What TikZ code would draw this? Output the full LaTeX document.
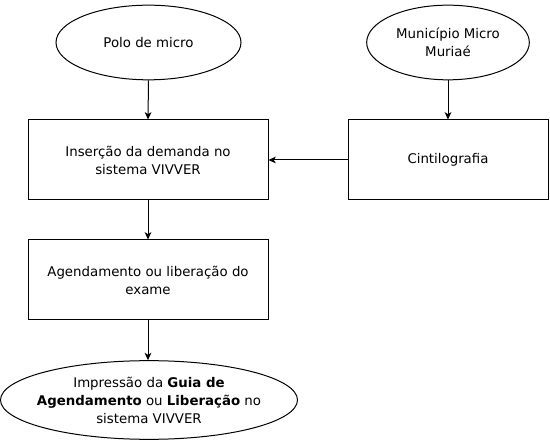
\documentclass[tikz,border=0pt]{standalone}
\usepackage{fontspec}
\setmainfont{DejaVu Sans}
\usetikzlibrary{shapes.geometric,arrows.meta}
\begin{document}
\begin{tikzpicture}[x=0.75pt,y=-0.75pt,
  every node/.style={font=\fontsize{10pt}{13.5pt}\selectfont, align=center, inner sep=0pt, line width=0.75pt},
  procbox/.style={rectangle, draw=black, minimum width=180pt, minimum height=60pt},
  ovalnode/.style={ellipse, draw=black},
  label text/.style={draw=none},
  flow/.style={line width=0.75pt, -{Stealth[length=5.5pt,width=5pt,inset=1.5pt]}}]
\useasboundingbox (0,0) rectangle (550,441);
\node[ovalnode, minimum width=138.75pt, minimum height=56pt] (polo) at (148.5,42.5) {};
\node[label text] (polo-t) at (polo.center) {Polo de micro};
\node[ovalnode, minimum width=122pt, minimum height=56pt] (mun) at (448,42.5) {};
\node[label text] (mun-t) at (mun.center) {Município Micro\\Muriaé};
\node[procbox] (ins) at (148,160) {Inserção da demanda no\\sistema VIVVER};
\node[procbox, minimum width=150pt] (cin) at (448,160) {Cintilografia};
\node[procbox] (age) at (148,280) {Agendamento ou liberação do\\exame};
\node[ovalnode, minimum width=222.75pt, minimum height=59pt] (imp) at (149,400) {};
\node[label text] (imp-t) at (imp.center) {Impressão da \textbf{Guia de}\\\textbf{Agendamento} ou \textbf{Liberação} no\\sistema VIVVER};
\draw[flow] (polo.south) -- (ins.north);
\draw[flow] (mun.south) -- (cin.north);
\draw[flow] (cin.west) -- (ins.east);
\draw[flow] (ins.south) -- (age.north);
\draw[flow] (age.south) -- (imp.north -| age.south);
\end{tikzpicture}
\end{document}
